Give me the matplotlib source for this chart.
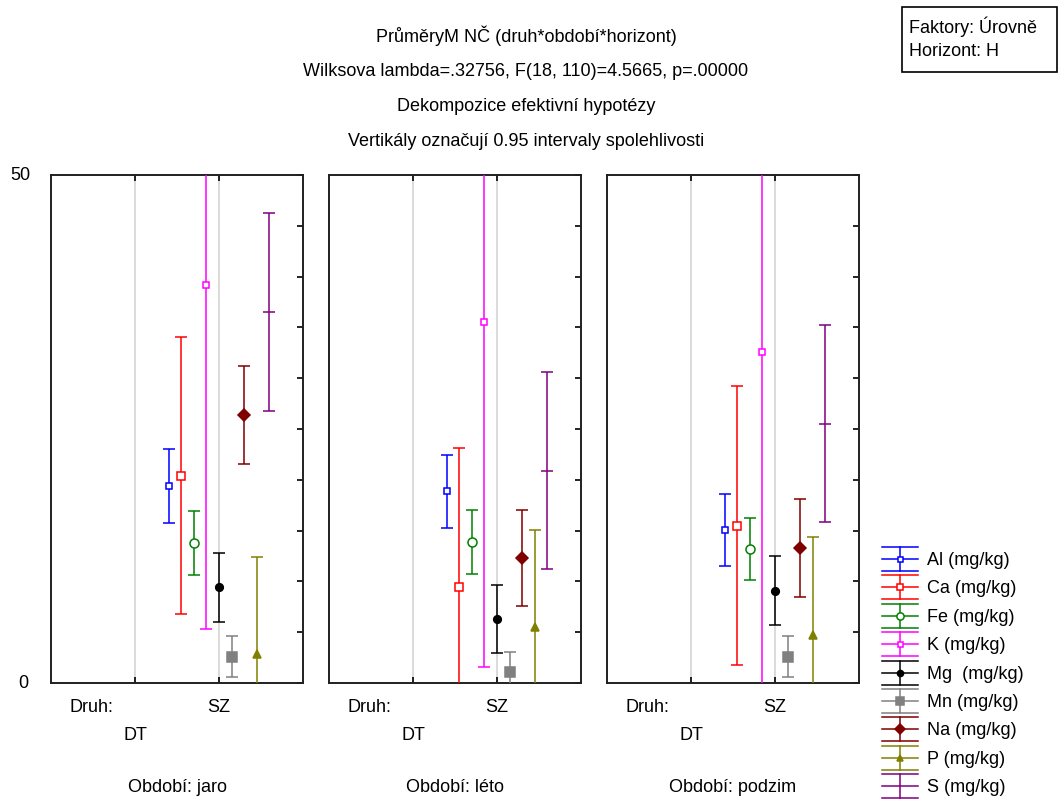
import matplotlib
matplotlib.use('Agg')
import matplotlib.pyplot as plt
from matplotlib.lines import Line2D
from matplotlib.legend_handler import HandlerBase
from matplotlib.patches import Rectangle

plt.rcParams['font.family'] = ['Liberation Sans', 'DejaVu Sans']
FS = 13

elements = ['Al (mg/kg)', 'Ca (mg/kg)', 'Fe (mg/kg)', 'K (mg/kg)', 'Mg  (mg/kg)',
            'Mn (mg/kg)', 'Na (mg/kg)', 'P (mg/kg)', 'S (mg/kg)']
colors = ['#0000ff', '#ff0000', '#008000', '#ff00ff', '#000000',
          '#808080', '#800000', '#808000', '#800080']
markers = ['s', 's', 'o', 's', 'o', 's', 'D', '^', '_']
filled = [False, False, False, False, True, True, True, True, True]
msizes = [4.5, 6, 6.5, 4.5, 5.5, 6.5, 6, 6, 8.6]

seasons = ['Období: jaro', 'Období: léto', 'Období: podzim']
druh = ['DT', 'SZ']

# means and half-widths of 0.95 CI, only SZ has values for horizon H
jaro_mean = [19.4, 20.4, 13.8, 39.2, 9.4, 2.6, 26.4, 2.9, 36.5]
jaro_ci = [3.65, 13.65, 3.15, 33.9, 3.4, 2.0, 4.85, 9.55, 9.75]
leto_mean = [18.85, 9.4, 13.9, 35.5, 6.3, 1.1, 12.3, 5.5, 20.9]
leto_ci = [3.55, 13.7, 3.15, 33.9, 3.35, 1.95, 4.75, 9.6, 9.7]
podzim_mean = [15.05, 15.5, 13.2, 32.6, 9.1, 2.6, 13.3, 4.7, 25.5]
podzim_ci = [3.55, 13.7, 3.05, 34.0, 3.4, 2.0, 4.8, 9.7, 9.7]

means = [jaro_mean, leto_mean, podzim_mean]
cis = [jaro_ci, leto_ci, podzim_ci]


class ErrHandler(HandlerBase):
    def create_artists(self, legend, orig, xd, yd, w, h, fs, trans):
        c = orig.get_color()
        x0, x1 = -xd, -xd + w
        xm = (x0 + x1) / 2
        ys = [-yd, -yd + h / 2, -yd + h]
        arts = [Line2D([x0, x1], [y, y], color=c, lw=1.1, transform=trans) for y in ys]
        arts.append(Line2D([xm, xm], [ys[0], ys[2]], color=c, lw=1.1, transform=trans))
        if orig.get_marker() != '_':
            arts.append(Line2D([xm], [ys[1]], marker=orig.get_marker(), ms=orig.get_markersize() * 0.8,
                               mfc=orig.get_markerfacecolor(), mec=c, mew=1.1, ls='none', transform=trans))
        return arts


fig = plt.figure(figsize=(10.6, 7.99), dpi=100)
W, H = 1060, 799
lefts = [51, 329, 607]
for k in range(3):
    ax = fig.add_axes([lefts[k] / W, 1 - 683 / H, 252 / W, 508 / H])
    for i in range(len(elements)):
        x = 2 + (i - 4) * 0.15
        ax.errorbar(x, means[k][i], yerr=cis[k][i], fmt=markers[i], color=colors[i],
                    mfc=colors[i] if filled[i] else 'white', mec=colors[i], mew=1.1,
                    ms=msizes[i], capsize=4.3, elinewidth=1.1, capthick=1.1, zorder=3)
    ax.set_xlim(0, 3)
    ax.set_ylim(0, 50)
    ax.set_xticks([1, 2])
    ax.set_xticklabels([])
    ax.set_yticks(range(0, 51, 5))
    ax.set_yticklabels([])
    ax.tick_params(axis='y', left=False, right=True, direction='in', length=4.5, width=1.2)
    ax.tick_params(axis='x', top=True, bottom=True, direction='in', length=4.5, width=1.2)
    ax.grid(axis='x', color='#d8d8d8', lw=1.3)
    for s in ax.spines.values():
        s.set_linewidth(1.4)
        s.set_color('#202020')
    tr = ax.get_xaxis_transform()
    ax.annotate('Druh:', xy=(0.48, 0), xycoords=tr, xytext=(0, -18), textcoords='offset points',
                ha='center', va='center', fontsize=FS)
    ax.annotate(druh[1], xy=(2, 0), xycoords=tr, xytext=(0, -18), textcoords='offset points',
                ha='center', va='center', fontsize=FS)
    ax.annotate(druh[0], xy=(1, 0), xycoords=tr, xytext=(0, -37.5), textcoords='offset points',
                ha='center', va='center', fontsize=FS)
    ax.annotate(seasons[k], xy=(1.5, 0), xycoords=tr, xytext=(0, -75.5), textcoords='offset points',
                ha='center', va='center', fontsize=FS)
    if k == 0:
        ty = ax.get_yaxis_transform()
        ax.text(-0.12, 50, '50', transform=ty, ha='center', va='center', fontsize=FS)
        ax.text(-0.11, 0, '0', transform=ty, ha='center', va='center', fontsize=FS)

titles = ['PrůměryM NČ (druh*období*horizont)',
          'Wilksova lambda=.32756, F(18, 110)=4.5665, p=.00000',
          'Dekompozice efektivní hypotézy',
          'Vertikály označují 0.95 intervaly spolehlivosti']
for j, t in enumerate(titles):
    fig.text(526 / W, 1 - (36 + j * 35.3) / H, t, ha='center', va='center', fontsize=FS)

fig.patches.append(Rectangle((902 / W, 1 - 72 / H), 155 / W, 65 / H, transform=fig.transFigure,
                             fc='white', ec='black', lw=1.2))
fig.text(909 / W, 1 - 27 / H, 'Faktory: Úrovně', ha='left', va='center', fontsize=FS)
fig.text(909 / W, 1 - 51 / H, 'Horizont: H', ha='left', va='center', fontsize=FS)

handles = [Line2D([], [], color=colors[i], marker=markers[i], ms=msizes[i],
                  mfc=colors[i] if filled[i] else 'white') for i in range(len(elements))]
fig.legend(handles, elements, handler_map={Line2D: ErrHandler()}, loc='upper left',
           bbox_to_anchor=(882 / W, 1 - 547 / H), frameon=False, fontsize=FS,
           handlelength=1.99, handleheight=1.668, labelspacing=0.244, handletextpad=0.5,
           borderpad=0, borderaxespad=0)

fig.savefig('out.png', dpi=100)
